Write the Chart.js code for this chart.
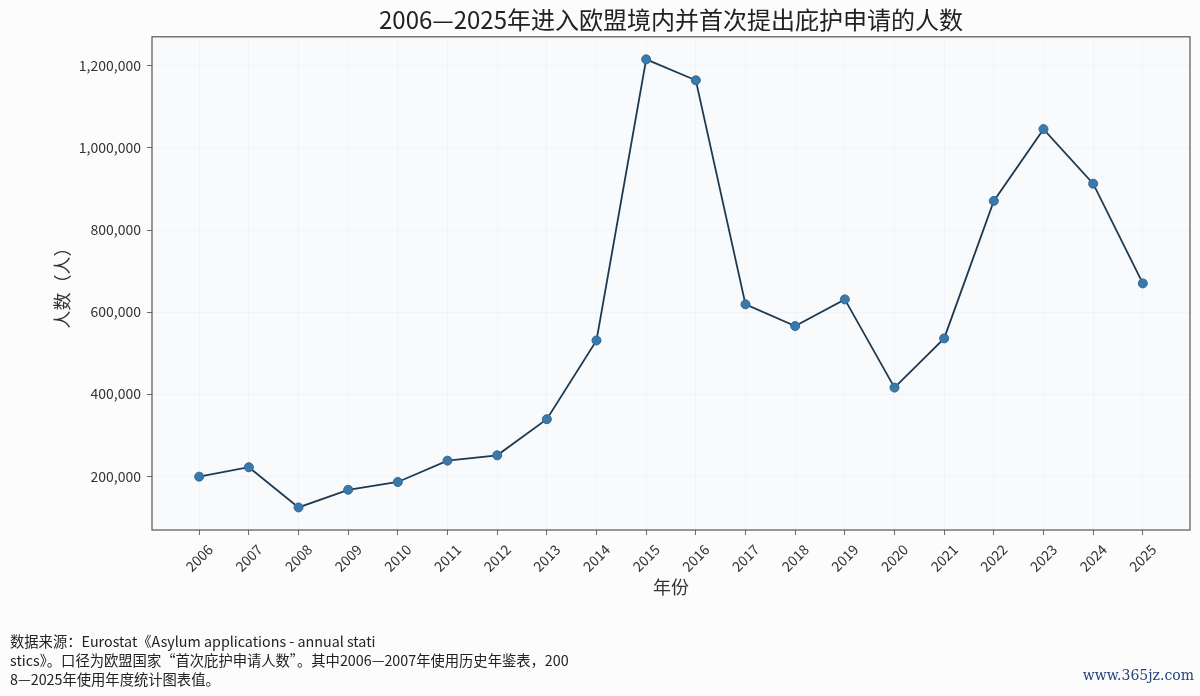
<!DOCTYPE html>
<html>
<head>
<meta charset="utf-8">
<script src="https://cdn.jsdelivr.net/npm/chart.js@4.4.1/dist/chart.umd.min.js"></script>
<style>
  html, body { margin: 0; padding: 0; background: #fcfcfd; }
  #wrap { position: relative; width: 1200px; height: 696px; }
  #note {
    position: absolute; left: 10px; top: 631px;
    font: 14.3px "Noto Sans CJK SC", "Noto Sans", sans-serif;
    line-height: 19px; color: #222;
  }
  #mark {
    position: absolute; right: 6px; top: 667px;
    font: 14px "DejaVu Serif", serif; color: #25427a;
  }
</style>
</head>
<body>
<div id="wrap">
  <canvas id="myChart" width="1200" height="696"></canvas>
  <div id="note">数据来源：Eurostat《Asylum applications - annual stati<br>stics》。口径为欧盟国家“首次庇护申请人数”。其中2006—2007年使用历史年鉴表，200<br>8—2025年使用年度统计图表值。</div>
  <div id="mark">www.365jz.com</div>
</div>
<script>
const years = [2006, 2007, 2008, 2009, 2010, 2011, 2012, 2013, 2014, 2015,
               2016, 2017, 2018, 2019, 2020, 2021, 2022, 2023, 2024, 2025];
const applicants = [199000, 222000, 124000, 167000, 186000, 238000, 251000, 339000, 531000, 1216000,
                    1165000, 619000, 566000, 631000, 416000, 536000, 871000, 1046000, 913000, 670000];
const yTicks = [200000, 400000, 600000, 800000, 1000000, 1200000];

const FONT = '"Noto Sans CJK SC", "Noto Sans", sans-serif';
Chart.defaults.font.family = FONT;
Chart.defaults.color = '#333';

// plot background + full frame around the chart area
const framePlugin = {
  id: 'frame',
  beforeDraw(chart) {
    const a = chart.chartArea, c = chart.ctx;
    c.save();
    c.fillStyle = '#f8fafc';
    c.fillRect(a.left, a.top, a.right - a.left, a.bottom - a.top);
    c.restore();
  },
  afterDatasetsDraw(chart) {
    const a = chart.chartArea, c = chart.ctx;
    c.save();
    c.strokeStyle = '#555';
    c.lineWidth = 1.2;
    c.strokeRect(a.left, a.top, a.right - a.left, a.bottom - a.top);
    c.restore();
  }
};

const ctx = document.getElementById('myChart');

window.myChart = new Chart(ctx, {
  type: 'line',
  data: {
    datasets: [{
      label: '人数',
      data: years.map((y, i) => ({ x: y, y: applicants[i] })),
      borderColor: '#1e3a52',
      borderWidth: 1.8,
      pointRadius: 4.5,
      pointBackgroundColor: '#3a79aa',
      pointBorderColor: '#2f6a98',
      pointBorderWidth: 1,
      tension: 0
    }]
  },
  options: {
    responsive: false,
    animation: false,
    devicePixelRatio: 1,
    layout: { padding: { left: 0, right: 10, top: 0, bottom: 96 } },
    plugins: {
      legend: { display: false },
      tooltip: { enabled: false },
      title: {
        display: true,
        fullSize: false,
        text: '2006—2025年进入欧盟境内并首次提出庇护申请的人数',
        color: '#222',
        font: { size: 24, weight: 'normal' },
        padding: { top: 5, bottom: 3 }
      }
    },
    scales: {
      x: {
        type: 'linear',
        min: 2005.05,
        max: 2025.95,
        afterFit(scale) { scale.height = 70; },
        afterBuildTicks(scale) { scale.ticks = years.map(v => ({ value: v })); },
        border: { display: false },
        grid: { color: '#edf1f5', lineWidth: 0.8, tickColor: '#444', tickLength: 5 },
        ticks: {
          autoSkip: false,
          minRotation: 45,
          maxRotation: 45,
          labelOffset: 11,
          padding: 6,
          font: { size: 14 },
          callback: v => String(v)
        },
        title: {
          display: true,
          text: '年份',
          color: '#333',
          font: { size: 18 },
          padding: { top: 0, bottom: 2 }
        }
      },
      y: {
        min: 69000,
        max: 1271000,
        afterFit(scale) { scale.width = 152; },
        afterBuildTicks(scale) { scale.ticks = yTicks.map(v => ({ value: v })); },
        border: { display: false },
        grid: { color: '#edf1f5', lineWidth: 0.8, tickColor: '#444', tickLength: 5 },
        ticks: {
          padding: 6,
          font: { size: 14 },
          callback: v => v.toLocaleString('en-US')
        },
        title: {
          display: true,
          text: '人数（人）',
          color: '#333',
          font: { size: 18 },
          padding: { top: 51, bottom: 0 }
        }
      }
    }
  },
  plugins: [framePlugin]
});
</script>
</body>
</html>
